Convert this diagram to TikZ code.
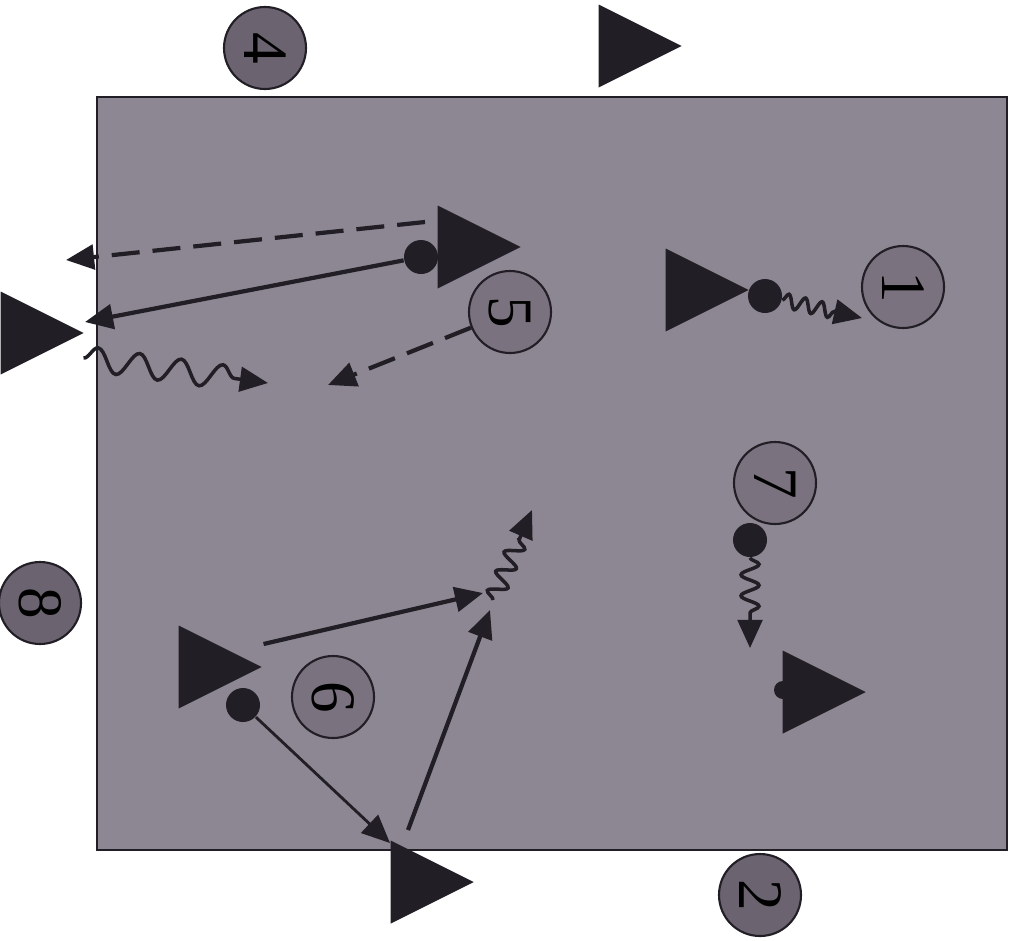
\documentclass[tikz,border=0pt]{standalone}
\usepackage{fontspec}
\setmainfont{Liberation Serif}
\usepackage{tikz}
\usetikzlibrary{arrows.meta,positioning,calc,shapes.geometric,decorations.pathmorphing}
\definecolor{fieldGray}{HTML}{8C8792}
\definecolor{discIn}{HTML}{7B7280}
\definecolor{discOut}{HTML}{6C6371}
\definecolor{markDark}{HTML}{221E25}

\begin{document}
\begin{tikzpicture}[x=0.1mm, y=-0.1mm,
  disc/.style={circle, draw=markDark, line width=0.6pt, fill=discIn, minimum size=8.2mm, inner sep=0pt, rotate=-90, font=\fontsize{18}{18}\selectfont},
  cone/.style={isosceles triangle, isosceles triangle stretches, fill=markDark, minimum width=8.3mm, minimum height=8.3mm, inner sep=0pt, anchor=lower side},
  ball/.style={circle, fill=markDark, minimum size=3.4mm, inner sep=0pt},
  pass/.style={-{Triangle[length=8pt,width=7pt]}, line width=1.2pt, markDark},
  run/.style={pass, dash pattern=on 2.8mm off 1.3mm},
  drib/.style={pass, line width=1pt, decorate, decoration={snake, amplitude=0.9mm, segment length=2.1mm, post length=2.6mm}}]
\useasboundingbox (0,0) rectangle (1013,940);
% --- field ---
\draw[fill=fieldGray, draw=markDark, line width=0.8pt] (97,97) rectangle (1007,850);
% --- players outside ---
\node[disc, fill=discOut] (p4) at (265,48) {4};
\node[disc, fill=discOut] (p8) at (40,603) {8};
\node[disc, fill=discOut] (p2) at (760,895) {2};
\node[cone] (tT) at (598,46) {};
\node[cone] (tL) at (0,333) {};
\node[cone] (tB) at (390,882) {};
% --- players inside ---
\node[disc] (p1) at (903,287) {1};
\node[disc] (p5) at (510,312) {5};
\node[disc] (p7) at (775,483) {7};
\node[disc] (p6) at (333,697) {6};
\node[cone] (t1) at (665,290) {};
\node[cone] (t5) at (437,247) {};
\node[cone] (t6) at (178,667) {};
\node[ball, minimum size=1.8mm] (b7x) at (783,690) {};
\node[cone] (t7) at (782,692) {};
% --- balls ---
\node[ball] (b1) at (765,296) {};
\node[ball] (b5) at (421,257) {};
\node[ball] (b6) at (243,705) {};
\node[ball] (b7) at (750,540) {};
% --- free ends ---
\coordinate (e1) at (66,260);
\coordinate (e2) at (85,322);
\coordinate (e3) at (268,383);
\coordinate (e4) at (328,385);
\coordinate (e5) at (862,318);
\coordinate (e6) at (750,648);
\coordinate (e7) at (483,593);
\coordinate (e8) at (390,843);
\coordinate (e9) at (490,610);
\coordinate (meet) at (493,600);
\coordinate (e10) at (532,510);
% --- moves ---
\draw[run] ($(t5.lower side)+(-12,-25)$) -- (e1);
\draw[pass] (b5) -- (e2);
\draw[drib, decoration={amplitude=1.2mm, segment length=4.2mm, post length=2.6mm}] ($(tL.apex)+(-2,25)$) -- (e3);
\draw[run] (p5) -- (e4);
\draw[drib, decoration={amplitude=0.7mm, segment length=1.7mm}] (b1) -- (e5);
\draw[drib] (b7) -- (e6);
\draw[pass] ($(t6.apex)+(0,-23)$) -- (e7);
\draw[pass, line width=0.8pt] (b6) -- (e8);
\draw[pass] ($(tB.lower side)+(18,-52)$) -- (e9);
\draw[drib] (meet) -- (e10);
\end{tikzpicture}
\end{document}
